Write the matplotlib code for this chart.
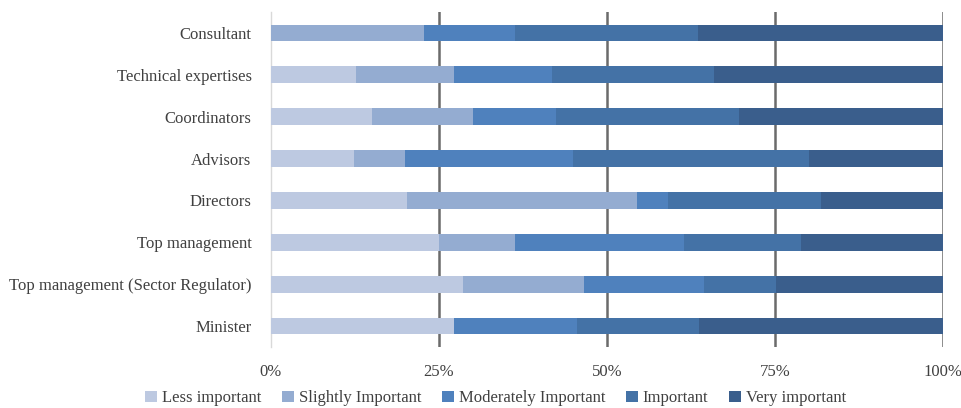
import numpy as np
import matplotlib.pyplot as plt

plt.rcParams['font.family'] = ['Liberation Serif', 'DejaVu Serif']

# Categories, bottom to top
roles = ['Minister', 'Top management (Sector Regulator)', 'Top management',
         'Directors', 'Advisors', 'Coordinators', 'Technical expertises',
         'Consultant']

# Share of responses (%) per importance level, same order as roles
less_important = [27.3, 28.6, 25.0, 20.3, 12.4, 15.0, 12.7, 0.0]
slightly_important = [0.0, 17.9, 11.3, 34.2, 7.5, 15.1, 14.6, 22.7]
moderately_important = [18.2, 17.9, 25.1, 4.6, 25.0, 12.3, 14.5, 13.6]
important = [18.2, 10.7, 17.4, 22.8, 35.1, 27.3, 24.1, 27.3]
very_important = [36.3, 24.9, 21.2, 18.1, 20.0, 30.3, 34.1, 36.4]

series = [
    ('Less important', less_important, '#bdc9e1'),
    ('Slightly Important', slightly_important, '#94acd1'),
    ('Moderately Important', moderately_important, '#4f81bd'),
    ('Important', important, '#4472a6'),
    ('Very important', very_important, '#3a5e8c'),
]

fig = plt.figure(figsize=(9.62, 4.08), dpi=100)
ax = fig.add_axes([0.2817, 0.1495, 0.6986, 0.8211])

y = np.arange(len(roles))
left = np.zeros(len(roles))
for name, vals, col in series:
    vals = np.array(vals, dtype=float)
    ax.barh(y, vals / 100.0, left=left / 100.0, height=0.4, color=col,
            label=name, zorder=3)
    left += vals

for x in [0.25, 0.5, 0.75, 1.0]:
    ax.axvline(x, color='#6b6b6b', lw=1.8, zorder=1)

ax.set_xlim(0, 1.0)
ax.set_ylim(-0.5, len(roles) - 0.5)
ax.set_xticks([0, 0.25, 0.5, 0.75, 1.0])
ax.set_xticklabels(['0%', '25%', '50%', '75%', '100%'])
ax.set_yticks(y)
ax.set_yticklabels(roles)
ax.tick_params(axis='both', length=0, labelsize=12, colors='#404040')
ax.tick_params(axis='y', pad=14)
ax.tick_params(axis='x', pad=12)

for side in ['top', 'right', 'bottom']:
    ax.spines[side].set_visible(False)
ax.spines['left'].set_color('#d9d9d9')
ax.spines['left'].set_linewidth(1.0)

handles, labels = ax.get_legend_handles_labels()
leg = fig.legend(handles, labels, loc='center', ncol=5,
                 bbox_to_anchor=(0.515, 0.024), frameon=False,
                 fontsize=12, handlelength=0.7, handleheight=0.7,
                 handletextpad=0.3, columnspacing=1.25, borderpad=0)
for t in leg.get_texts():
    t.set_color('#404040')

fig.savefig('out.png', dpi=100)
